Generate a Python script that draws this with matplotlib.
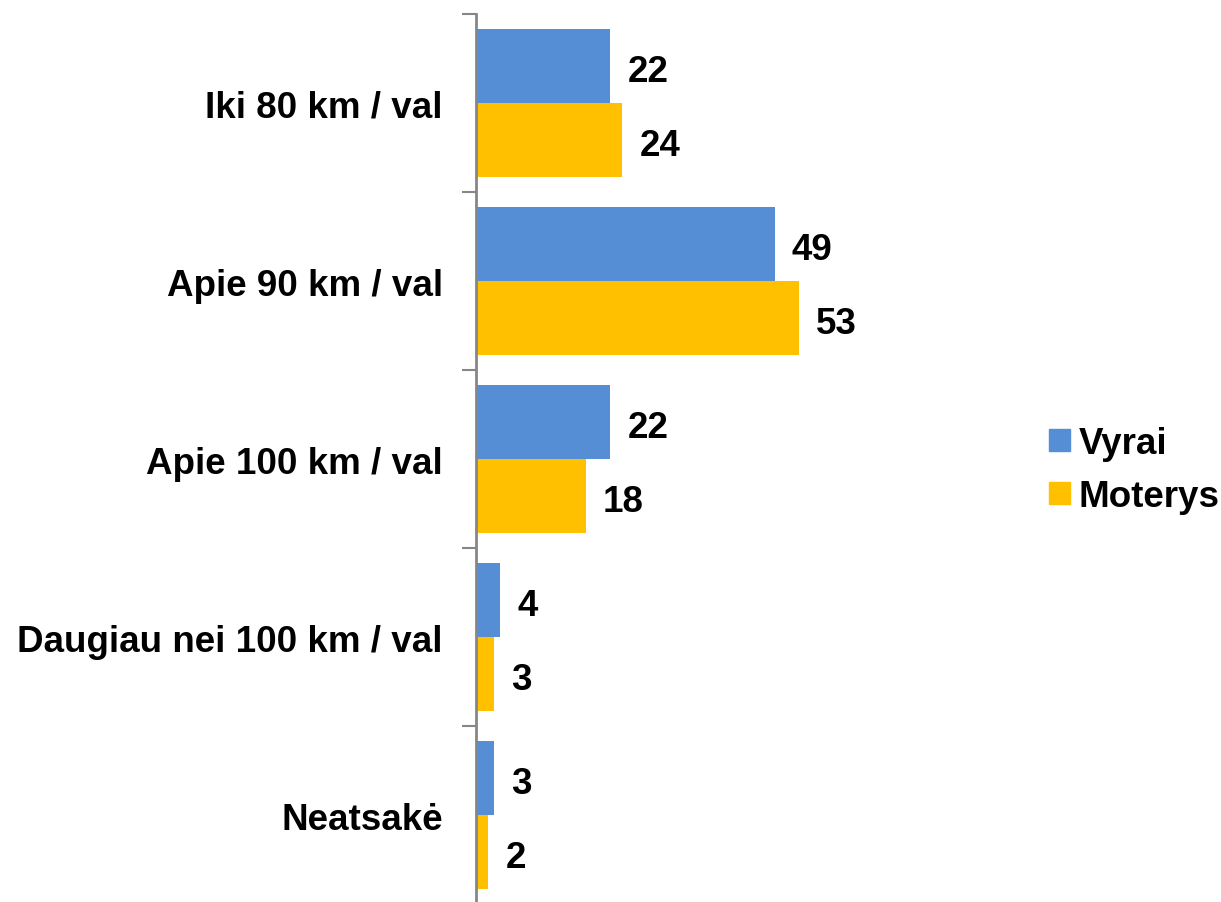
import numpy as np
import matplotlib.pyplot as plt
from matplotlib.patches import Patch

plt.rcParams['font.family'] = ['Liberation Sans', 'DejaVu Sans']

categories = ['Iki 80 km / val', 'Apie 90 km / val', 'Apie 100 km / val',
              'Daugiau nei 100 km / val', 'Neatsakė']
vyrai = [22, 49, 22, 4, 3]
moterys = [24, 53, 18, 3, 2]

BLUE = '#558ED5'
YELLOW = '#FFC000'
GRAY = '#868686'
FS = 26.5

fig = plt.figure(figsize=(12.21, 9.03), dpi=100)
ax = fig.add_axes([476 / 1221, -2 / 903, 366 / 1221, 890 / 903])

y = np.arange(len(categories))
h = 0.416
ax.barh(y - h / 2, vyrai, height=h, color=BLUE)
ax.barh(y + h / 2, moterys, height=h, color=YELLOW)

# value labels, a touch below bar centre like the original
for yi, v in zip(y - h / 2, vyrai):
    ax.text(v + 2.8, yi + 0.01, str(v), va='center_baseline', ha='left',
            fontsize=FS, fontweight='bold')
for yi, v in zip(y + h / 2, moterys):
    ax.text(v + 2.8, yi + 0.01, str(v), va='center_baseline', ha='left',
            fontsize=FS, fontweight='bold')

ax.set_xlim(0, 60)
ax.set_ylim(len(categories) - 0.5, -0.5)

ax.set_yticks(y)
ax.set_yticklabels(categories, fontsize=FS, fontweight='bold')
ax.tick_params(axis='y', which='major', length=0, pad=24)
ax.set_yticks(np.arange(-0.5, len(categories)), minor=True)
ax.tick_params(axis='y', which='minor', length=10, width=1.5, color=GRAY)

for s in ['top', 'right', 'bottom']:
    ax.spines[s].set_visible(False)
ax.spines['left'].set_color(GRAY)
ax.spines['left'].set_linewidth(2)
ax.set_xticks([])

handles = [Patch(color=BLUE, label='Vyrai'), Patch(color=YELLOW, label='Moterys')]
fig.legend(handles=handles, loc='center left', bbox_to_anchor=(1042 / 1221, 1 - 471 / 903),
           frameon=False, prop={'size': FS, 'weight': 'bold'},
           handlelength=0.55, handleheight=0.55, handletextpad=0.25, labelspacing=0.5,
           borderaxespad=0, borderpad=0.2)

fig.savefig('out.png', dpi=100)
